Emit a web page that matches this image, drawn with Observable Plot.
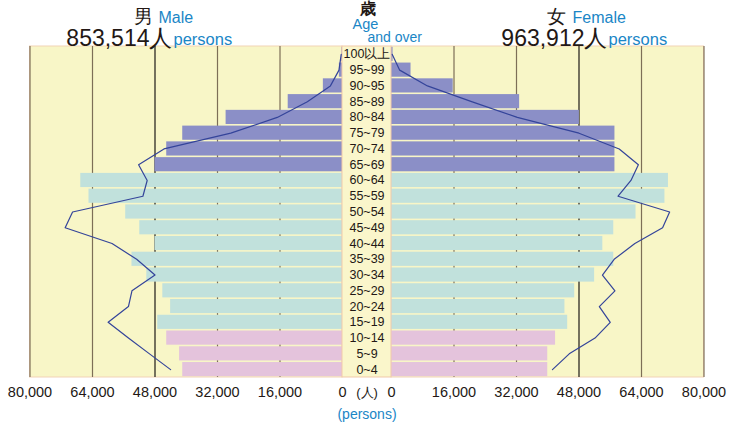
<!DOCTYPE html>
<html><head><meta charset="utf-8">
<script src="https://cdn.jsdelivr.net/npm/d3@7"></script>
<script src="https://cdn.jsdelivr.net/npm/@observablehq/plot@0.6"></script>
<style>
body{margin:0;background:#fff;}
#chart{position:relative;width:729px;height:423px;overflow:hidden;}
</style>
</head><body><div id="chart"></div>
<script>
// ---- data ----
const ages = ["100以上","95~99","90~95","85~89","80~84","75~79","70~74","65~69","60~64","55~59","50~54","45~49","40~44","35~39","30~34","25~29","20~24","15~19","10~14","5~9","0~4"];
const groups = ["old","old","old","old","old","old","old","old","work","work","work","work","work","work","work","work","work","work","young","young","young"];
const male   = [150, 800, 4900, 13900, 29800, 40900, 45000, 48000, 67000, 64900, 55500, 51900, 48000, 53900, 50100, 46000, 44000, 47300, 45000, 41700, 40900];
const female = [400, 5000, 15800, 32800, 48100, 57200, 57200, 57200, 70900, 70000, 62600, 56900, 54100, 56900, 52000, 46900, 44400, 45100, 42000, 40000, 40000];
const maleLine   = [330, 900, 3100, 9000, 16700, 28600, 45700, 52200, 50000, 51100, 69100, 71000, 59000, 52700, 48000, 53900, 54800, 60000, 54800, 49400, 44000];
const femaleLine = [200, 2100, 9200, 20500, 32200, 48000, 58300, 63200, 61300, 58000, 71200, 69400, 62300, 57000, 54000, 57200, 53200, 56000, 52100, 45500, 41200];
const ticks = [0, 16000, 32000, 48000, 64000, 80000];
const totalMale = "853,514", totalFemale = "963,912";

// ---- helpers ----
const G = 6272; // half of the central label gap, in value units
const pos = (side, v) => side === "M" ? -(v + G) : (v + G);
const fills = {old: "#8b8fc7", work: "#c1e1dc", young: "#e4c3dc"};
const blue = "#1a86c6", ink = "#231815";
const font = "'Liberation Sans', Arial, sans-serif";

const bars = [];
ages.forEach((a, i) => {
  bars.push({age: a, side: "M", v: male[i], g: groups[i]});
  bars.push({age: a, side: "F", v: female[i], g: groups[i]});
});
const lines = [];
["M","F"].forEach(s => ages.forEach((a, i) => lines.push({age: a, side: s, v: s === "M" ? maleLine[i] : femaleLine[i]})));
const tickData = [];
["M","F"].forEach(s => ticks.forEach(t => tickData.push({side: s, t})));
const panels = [{side: "M"}, {side: "F"}];

const T = 46, B = 423 - 377; // top / bottom insets of the plotting rows

const chart = Plot.plot({
  width: 729, height: 423,
  marginTop: 0, marginBottom: 0, marginLeft: 0, marginRight: 0,
  style: {fontFamily: font, background: "#fff", overflow: "visible"},
  x: {domain: [-93824, 92800], range: [0, 729], axis: null},
  y: {type: "band", domain: ages, range: [46, 377], padding: 0, round: false, axis: null},
  marks: [
    // panel backgrounds
    Plot.rect(panels, {x1: d => pos(d.side, 0), x2: d => pos(d.side, 80000), fill: "#f8f6c7", stroke: "#f2d3b6", strokeWidth: 1, insetTop: T, insetBottom: B}),
    // gridlines
    Plot.ruleX(tickData.filter(d => d.t > 0), {x: d => pos(d.side, d.t), stroke: d => d.t === 48000 ? "#1d1a16" : "#7d6f57", strokeWidth: 1.2, insetTop: T, insetBottom: B}),
    // bars
    Plot.barX(bars, {x1: d => pos(d.side, 0), x2: d => pos(d.side, d.v), y: "age", fill: d => fills[d.g], insetTop: 0.8, insetBottom: 0.8}),
    // central label strip
    Plot.rect([{}], {x1: -G, x2: G, fill: "#faf6cb", stroke: "#f1c9a9", strokeWidth: 1, insetTop: T, insetBottom: B}),
    // comparison lines
    Plot.line(lines, {x: d => pos(d.side, d.v), y: "age", z: "side", stroke: "#34449a", strokeWidth: 1.2}),
    // age labels
    Plot.text(ages, {x: 0, y: d => d, text: d => d, fontSize: 12.5, fill: ink, fontFamily: "'Liberation Sans Narrow', 'Liberation Sans', sans-serif"}),
    // tick labels
    Plot.text(tickData, {x: d => pos(d.side, d.t), text: d => d3.format(",")(d.t), frameAnchor: "top", lineAnchor: "bottom", dy: 396, fontSize: 14.5, fill: ink}),
    Plot.text(["(人)"], {x: 0, text: d => d, frameAnchor: "top", lineAnchor: "bottom", dy: 396, fontSize: 13, fill: ink}),
    Plot.text(["(persons)"], {x: 0, text: d => d, frameAnchor: "top", lineAnchor: "bottom", dy: 418, fontSize: 14, fill: blue}),
    // headers
    Plot.text(["男"], {frameAnchor: "top-left", dx: 133, dy: 22, lineAnchor: "bottom", textAnchor: "start", fontSize: 19, fill: ink}),
    Plot.text(["Male"], {frameAnchor: "top-left", dx: 158, dy: 22, lineAnchor: "bottom", textAnchor: "start", fontSize: 16, fill: blue}),
    Plot.text([totalMale + "人"], {frameAnchor: "top-left", dx: 172, dy: 45, lineAnchor: "bottom", textAnchor: "end", fontSize: 23, fill: ink}),
    Plot.text(["persons"], {frameAnchor: "top-left", dx: 173, dy: 44.5, lineAnchor: "bottom", textAnchor: "start", fontSize: 16.5, fill: blue}),
    Plot.text(["女"], {frameAnchor: "top-left", dx: 546, dy: 22, lineAnchor: "bottom", textAnchor: "start", fontSize: 19, fill: ink}),
    Plot.text(["Female"], {frameAnchor: "top-left", dx: 572, dy: 22, lineAnchor: "bottom", textAnchor: "start", fontSize: 16, fill: blue}),
    Plot.text([totalFemale + "人"], {frameAnchor: "top-left", dx: 607, dy: 45, lineAnchor: "bottom", textAnchor: "end", fontSize: 23, fill: ink}),
    Plot.text(["persons"], {frameAnchor: "top-left", dx: 608, dy: 44.5, lineAnchor: "bottom", textAnchor: "start", fontSize: 16.5, fill: blue}),
    Plot.text(["歳"], {frameAnchor: "top-left", dx: 367, dy: 13, lineAnchor: "bottom", textAnchor: "middle", fontSize: 16, fontWeight: "bold", fill: ink}),
    Plot.text(["Age"], {frameAnchor: "top-left", dx: 352, dy: 28, lineAnchor: "bottom", textAnchor: "start", fontSize: 14.5, fill: blue}),
    Plot.text(["and over"], {frameAnchor: "top-left", dx: 367, dy: 41, lineAnchor: "bottom", textAnchor: "start", fontSize: 14, fill: blue, letterSpacing: -0.3})
  ]
});
document.getElementById("chart").append(chart);
</script>
</body></html>
